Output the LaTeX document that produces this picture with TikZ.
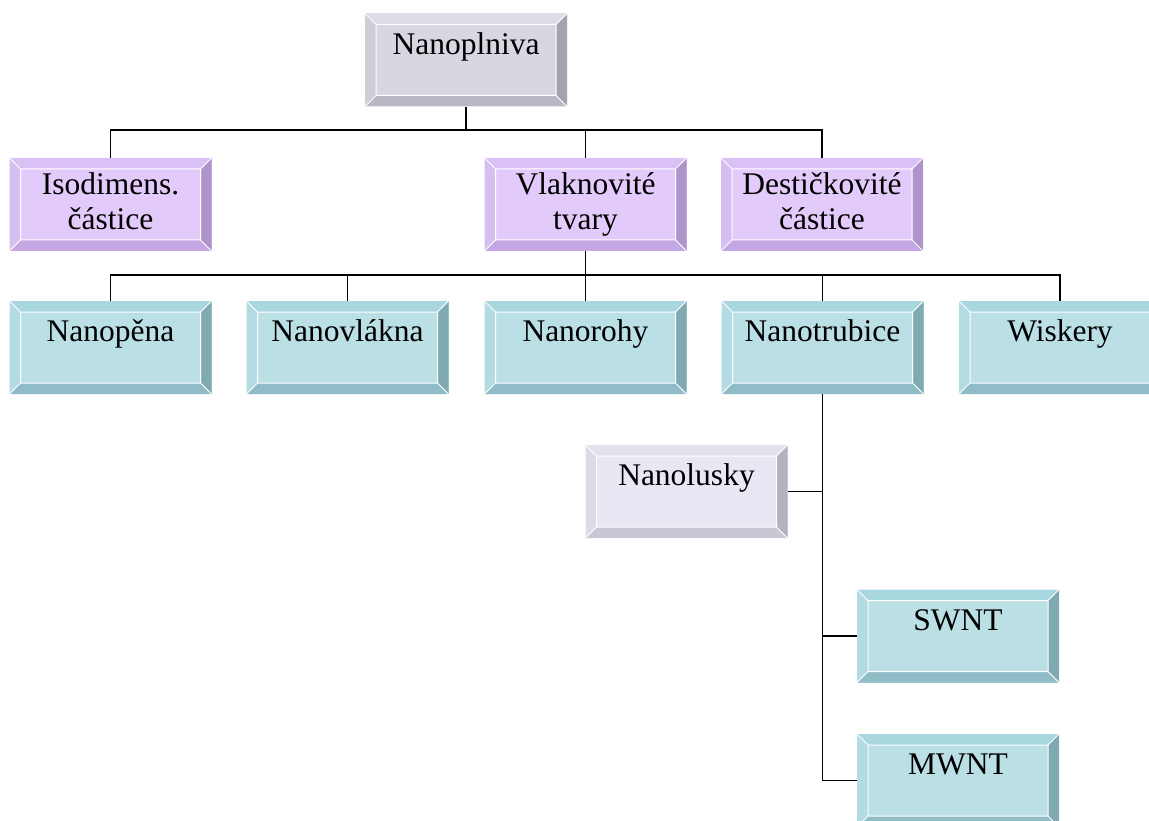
\documentclass[tikz,border=0pt]{standalone}
\usepackage{fontspec}
\setmainfont{Liberation Serif}
% palettes: face, top, left, right, bottom
\definecolor{gFace}{HTML}{D7D7E1}\definecolor{gTop}{HTML}{DDDDE6}\definecolor{gLeft}{HTML}{CECED9}\definecolor{gRight}{HTML}{A3A3AF}\definecolor{gBot}{HTML}{B9B9C5}
\definecolor{pFace}{HTML}{E2CBFA}\definecolor{pTop}{HTML}{DAC1F5}\definecolor{pLeft}{HTML}{D6BEF0}\definecolor{pRight}{HTML}{AF94CB}\definecolor{pBot}{HTML}{C3A6E2}
\definecolor{tFace}{HTML}{BADFE5}\definecolor{tTop}{HTML}{A9D7E0}\definecolor{tLeft}{HTML}{B2DBE2}\definecolor{tRight}{HTML}{80AAB2}\definecolor{tBot}{HTML}{8FBCC6}
\definecolor{lFace}{HTML}{E8E8F4}\definecolor{lTop}{HTML}{E2E2ED}\definecolor{lLeft}{HTML}{DCDCE8}\definecolor{lRight}{HTML}{B3B3BF}\definecolor{lBot}{HTML}{C8C8D4}
\tikzset{
  bevel/.style n args={5}{rectangle, inner sep=0pt, minimum width=202pt, minimum height=93pt, fill=#1,
    path picture={
      \path (path picture bounding box.north west) coordinate (pnw)
            (path picture bounding box.north east) coordinate (pne)
            (path picture bounding box.south west) coordinate (psw)
            (path picture bounding box.south east) coordinate (pse)
            ([shift={(11pt,-11pt)}]pnw) coordinate (inw)
            ([shift={(-11pt,-11pt)}]pne) coordinate (ine)
            ([shift={(11pt,11pt)}]psw) coordinate (isw)
            ([shift={(-11pt,11pt)}]pse) coordinate (ise);
      \fill[#2] (pnw) -- (pne) -- (ine) -- (inw) -- cycle;
      \fill[#3] (pnw) -- (inw) -- (isw) -- (psw) -- cycle;
      \fill[#4] (pne) -- (pse) -- (ise) -- (ine) -- cycle;
      \fill[#5] (psw) -- (isw) -- (ise) -- (pse) -- cycle;
      \draw[white, line width=1pt] (inw) rectangle (ise)
            (pnw) -- (inw) (pne) -- (ine) (psw) -- (isw) (pse) -- (ise);
    }},
  graybox/.style={bevel={gFace}{gTop}{gLeft}{gRight}{gBot}},
  purplebox/.style={bevel={pFace}{pTop}{pLeft}{pRight}{pBot}},
  tealbox/.style={bevel={tFace}{tTop}{tLeft}{tRight}{tBot}},
  lilacbox/.style={bevel={lFace}{lTop}{lLeft}{lRight}{lBot}},
  lbl/.style={anchor=base, inner sep=0pt, font=\fontsize{31.5}{35}\selectfont},
  link/.style={draw=black, line width=1.7pt}
}
\begin{document}
\begin{tikzpicture}[x=1pt,y=-1pt]
\path[use as bounding box, clip] (0,0) rectangle (1149,821);

% boxes
\node[graybox]   (nanoplniva)  at (466,60)     {};
\node[purplebox] (iso)         at (110.5,204.5) {};
\node[purplebox] (vlak)        at (585.5,204.5) {};
\node[purplebox] (desti)       at (822,204.5)   {};
\node[tealbox]   (nanopena)    at (110.5,347.5) {};
\node[tealbox]   (nanovlakna)  at (347.5,347.5) {};
\node[tealbox]   (nanorohy)    at (585.5,347.5) {};
\node[tealbox]   (nanotrubice) at (822.5,347.5) {};
\node[tealbox]   (wiskery)     at (1060,347.5)  {};
\node[lilacbox]  (nanolusky)   at (686.5,491.5) {};
\node[tealbox]   (swnt)        at (958,636)     {};
\node[tealbox]   (mwnt)        at (958,780.5)   {};

% texts
\node[lbl] (nanoplniva-t) at ([yshift=-41pt]nanoplniva.north) {Nanoplniva};
\node[lbl] (iso-a)   at ([yshift=-37pt]iso.north)   {Isodimens.};
\node[lbl] (iso-b)   at ([yshift=-72pt]iso.north)   {částice};
\node[lbl] (vlak-a)  at ([yshift=-37pt]vlak.north)  {Vlaknovité};
\node[lbl] (vlak-b)  at ([yshift=-72pt]vlak.north)  {tvary};
\node[lbl] (desti-a) at ([yshift=-37pt]desti.north) {Destičkovité};
\node[lbl] (desti-b) at ([yshift=-72pt]desti.north) {částice};
\node[lbl] (nanopena-t)    at ([yshift=-41pt]nanopena.north)    {Nanopěna};
\node[lbl] (nanovlakna-t)  at ([yshift=-41pt]nanovlakna.north)  {Nanovlákna};
\node[lbl] (nanorohy-t)    at ([yshift=-41pt]nanorohy.north)    {Nanorohy};
\node[lbl] (nanotrubice-t) at ([yshift=-41pt]nanotrubice.north) {Nanotrubice};
\node[lbl] (wiskery-t)     at ([yshift=-41pt]wiskery.north)     {Wiskery};
\node[lbl] (nanolusky-t)   at ([yshift=-41pt]nanolusky.north)   {Nanolusky};
\node[lbl] (swnt-t)        at ([yshift=-41pt]swnt.north)        {SWNT};
\node[lbl] (mwnt-t)        at ([yshift=-41pt]mwnt.north)        {MWNT};

% connectors, first level
\draw[link] (nanoplniva.south) -- ++(0,23);
\draw[link] (iso.north) -- ++(0,-28) -| (desti.north);
\draw[link] (vlak.north) -- ++(0,-28);
% second level
\draw[link] (vlak.south) -- ++(0,25);
\draw[link] (nanopena.north) -- ++(0,-26) -| (wiskery.north);
\draw[link] (nanovlakna.north) -- ++(0,-26);
\draw[link] (nanorohy.north) -- ++(0,-26);
\draw[link] (nanotrubice.north) -- ++(0,-26);
% nanotube branch
\draw[link] (nanotrubice.south) |- (mwnt.west);
\draw[link] (nanolusky.east) -- (nanolusky.east -| nanotrubice.south);
\draw[link] (swnt.west) -- (swnt.west -| nanotrubice.south);
\end{tikzpicture}
\end{document}
